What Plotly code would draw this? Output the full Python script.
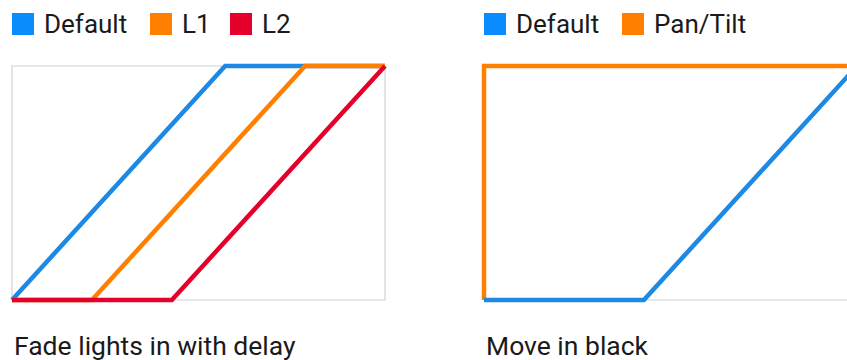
import plotly.graph_objects as go

# --- Data (time in steps of 1/7 of the box width, level 0..1) ---
W, H = 847, 360

fade_default_x = [0, 4, 7]
fade_default_y = [0, 1, 1]
fade_l1_x = [0, 1.5, 5.5, 7]
fade_l1_y = [0, 0, 1, 1]
fade_l2_x = [0, 3, 7]
fade_l2_y = [0, 0, 1]

move_default_x = [0, 3, 7]
move_default_y = [0, 0, 1]
move_pantilt_x = [0, 0, 7]
move_pantilt_y = [0, 1, 1]

left_legend = ["Default", "L1", "L2"]
right_legend = ["Default", "Pan/Tilt"]
titles = ["Fade lights in with delay", "Move in black"]

# --- Style ---
BLUE = '#1E88E5'
BLUE_KEY = '#0A8CFF'
ORANGE = '#FF8000'
RED = '#E4002B'
TEXT = '#1A1A1A'
BOX = '#D2D2D2'
FONT = "Roboto, sans-serif"
LW = 4.5

PX_PER_UNIT = 373 / 7
PAD = 3 / PX_PER_UNIT
YPAD = 3 / 234

fig = go.Figure()

def add_line(x, y, color, xaxis):
    fig.add_trace(go.Scatter(
        x=x, y=y, mode='lines', xaxis=xaxis, yaxis='y',
        line=dict(color=color, width=LW), hoverinfo='skip', showlegend=False
    ))

add_line(fade_default_x, fade_default_y, BLUE, 'x')
add_line(fade_l1_x, fade_l1_y, ORANGE, 'x')
add_line(fade_l2_x, fade_l2_y, RED, 'x')
add_line(move_pantilt_x, move_pantilt_y, ORANGE, 'x2')
add_line(move_default_x, move_default_y, BLUE, 'x2')

axis_common = dict(showgrid=False, zeroline=False, showticklabels=False,
                   showline=False, fixedrange=True)

fig.update_layout(
    width=W, height=H,
    margin=dict(l=0, r=0, t=0, b=0),
    paper_bgcolor='white', plot_bgcolor='white',
    showlegend=False,
    xaxis=dict(domain=[9 / W, 388 / W], range=[-PAD, 7 + PAD], **axis_common),
    xaxis2=dict(domain=[481 / W, 1], range=[-PAD, (847 - 484) / PX_PER_UNIT],
                anchor='y', **axis_common),
    yaxis=dict(domain=[57 / H, 297 / H], range=[-YPAD, 1 + YPAD], **axis_common),
)

# box outlines drawn behind the lines
for xref in ['x', 'x2']:
    fig.add_shape(type='rect', xref=xref, yref='y', x0=0, x1=7, y0=0, y1=1,
                  line=dict(color=BOX, width=1.2), layer='below')

# --- Legends (squares + labels) ---
def legend_item(px, label, color):
    fig.add_shape(type='rect', xref='paper', yref='paper',
                  x0=px / W, x1=(px + 22) / W, y0=1 - 35 / H, y1=1 - 13 / H,
                  line=dict(width=0), fillcolor=color)
    fig.add_annotation(text=label, xref='paper', yref='paper',
                       x=(px + 30) / W, y=1 - 24 / H, xanchor='left', yanchor='middle',
                       showarrow=False, font=dict(family=FONT, size=26, color=TEXT))

for px, label, color in zip([12, 150, 230], left_legend, [BLUE_KEY, ORANGE, RED]):
    legend_item(px, label, color)
for px, label, color in zip([484, 622], right_legend, [BLUE_KEY, ORANGE]):
    legend_item(px, label, color)

# --- Panel captions ---
for px, title in zip([12, 484], titles):
    fig.add_annotation(text=title, xref='paper', yref='paper',
                       x=px / W, y=1 - 345 / H, xanchor='left', yanchor='middle',
                       showarrow=False, font=dict(family=FONT, size=26.5, color=TEXT))

# page body has a default 8px margin; drop it so the figure sits at 0,0
fig.write_html("out.html", config={'displayModeBar': False},
               post_script="document.body.style.margin='0';")
